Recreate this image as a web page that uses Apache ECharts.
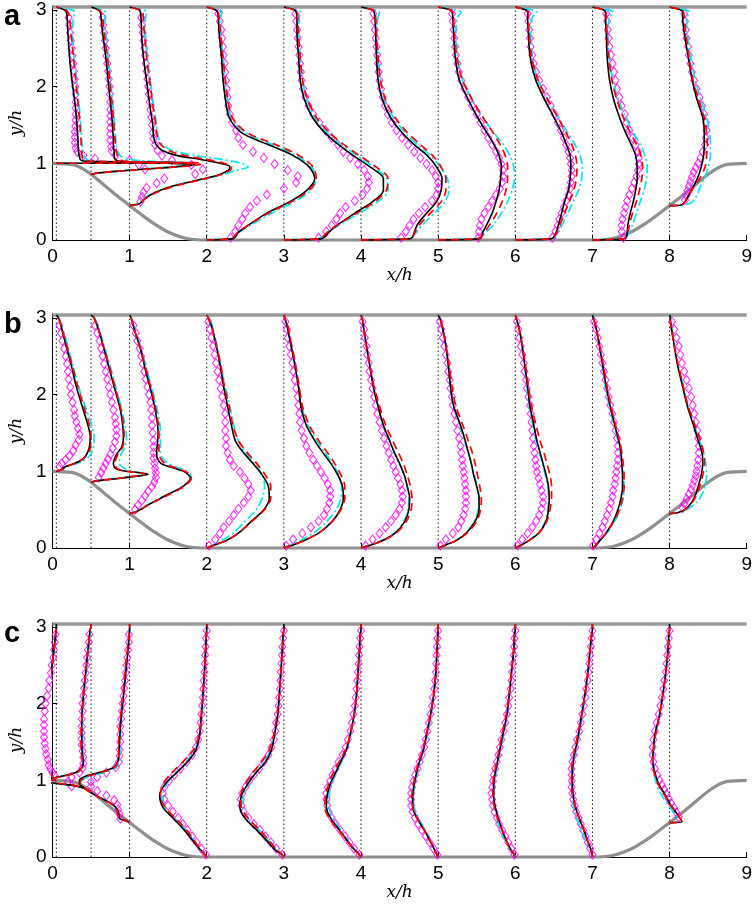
<!DOCTYPE html>
<html><head><meta charset="utf-8">
<script src="https://cdn.jsdelivr.net/npm/echarts/dist/echarts.min.js"></script>
<style>html,body{margin:0;padding:0;background:#fff}#c{width:755px;height:909px}</style>
</head><body><div id="c"></div>
<script>
// ---------- data ----------
const stations = [0.05, 0.5, 1, 2, 3, 4, 5, 6, 7, 8];
const xTicks = [0, 1, 2, 3, 4, 5, 6, 7, 8, 9];
const yTicks = [0, 1, 2, 3];
const topWall = 3.036;
const panelLetters = ['a', 'b', 'c'];
// hill surface (left half; right half is the same hill seen from x = 9)
const hillX = [0, 0.25, 0.32, 0.4, 0.5, 0.6, 0.714, 0.8, 0.9, 1.0, 1.1, 1.2, 1.3, 1.43, 1.5, 1.6, 1.7, 1.8, 1.93];
const hillY = [1.0, 0.986, 0.964, 0.925, 0.857, 0.776, 0.679, 0.607, 0.527, 0.448, 0.371, 0.295, 0.224, 0.143, 0.105, 0.062, 0.030, 0.0096, 0];

// y levels of the simulated profiles at each station
const yS005 = [1.0, 1.006, 1.015, 1.03, 1.05, 1.08, 1.13, 1.2, 1.3, 1.45, 1.6, 1.8, 2.1, 2.4, 2.7, 2.9, 2.97, 3.0, 3.036];
const yS05 = [0.857, 0.875, 0.9, 0.93, 0.96, 0.985, 1.0, 1.03, 1.06, 1.1, 1.15, 1.22, 1.32, 1.45, 1.6, 1.8, 2.1, 2.4, 2.7, 2.9, 2.97, 3.0, 3.036];
const yS1 = [0.448, 0.47, 0.5, 0.55, 0.62, 0.7, 0.78, 0.85, 0.91, 0.955, 1.0, 1.05, 1.1, 1.17, 1.25, 1.35, 1.5, 1.7, 2.0, 2.3, 2.6, 2.85, 2.97, 3.0, 3.036];
const yFlat = [0, 0.015, 0.04, 0.1, 0.2, 0.35, 0.5, 0.65, 0.8, 0.95, 1.1, 1.25, 1.4, 1.6, 1.85, 2.1, 2.4, 2.7, 2.9, 2.97, 3.0, 3.036];
const yS8 = [0.448, 0.46, 0.5, 0.6, 0.7, 0.8, 0.95, 1.1, 1.25, 1.4, 1.6, 1.85, 2.1, 2.4, 2.7, 2.9, 2.97, 3.0, 3.036];
const lineY = [yS005, yS05, yS1, yFlat, yFlat, yFlat, yFlat, yFlat, yFlat, yS8];

// y levels of the experimental points (diamonds) at each station
const dY005 = [1.06, 1.1, 1.15, 1.2, 1.27, 1.34, 1.41, 1.48, 1.56, 1.64, 1.72, 1.8, 1.9, 2.0, 2.1, 2.2, 2.3, 2.4, 2.5, 2.6, 2.7, 2.8, 2.9];
const dY05 = [0.92, 0.98, 1.04, 1.1, 1.16, 1.22, 1.3, 1.38, 1.46, 1.54, 1.62, 1.7, 1.8, 1.9, 2.0, 2.1, 2.2, 2.3, 2.4, 2.5, 2.6, 2.7, 2.8, 2.9];
const dY1 = [0.5, 0.56, 0.62, 0.68, 0.74, 0.8, 0.86, 0.92, 0.98, 1.04, 1.1, 1.17, 1.24, 1.32, 1.4, 1.5, 1.6, 1.7, 1.8, 1.9, 2.0, 2.1, 2.2, 2.3, 2.4, 2.5, 2.6, 2.7, 2.8, 2.9];
const dYFlat = [0.03, 0.11, 0.19, 0.27, 0.35, 0.43, 0.51, 0.59, 0.67, 0.75, 0.83, 0.91, 0.99, 1.07, 1.15, 1.24, 1.33, 1.43, 1.53, 1.64, 1.75, 1.86, 1.97, 2.08, 2.19, 2.3, 2.41, 2.52, 2.63, 2.74, 2.85, 2.95];
const dY8 = [0.52, 0.58, 0.64, 0.7, 0.76, 0.82, 0.88, 0.94, 1.0, 1.07, 1.15, 1.24, 1.33, 1.43, 1.53, 1.64, 1.75, 1.86, 1.97, 2.08, 2.19, 2.3, 2.41, 2.52, 2.63, 2.74, 2.85, 2.95];
const diaY = [dY005, dY05, dY1, dYFlat, dYFlat, dYFlat, dYFlat, dYFlat, dYFlat, dY8];

// ---- panel a: profile offsets (x/h from station) ----
const aBlack = [
 [0, 1.80, 1.15, 0.35, 0.31, 0.30, 0.29, 0.285, 0.28, 0.27, 0.26, 0.24, 0.20, 0.17, 0.15, 0.14, 0.13, 0.10, 0],
 [0, 0.1, 0.38, 0.78, 1.17, 1.35, 1.0, 0.35, 0.31, 0.30, 0.30, 0.29, 0.29, 0.28, 0.27, 0.25, 0.22, 0.19, 0.15, 0.13, 0.12, 0.09, 0],
 [0, 0.12, 0.16, 0.21, 0.33, 0.55, 0.88, 1.16, 1.28, 1.30, 1.17, 0.92, 0.62, 0.42, 0.34, 0.31, 0.30, 0.27, 0.23, 0.19, 0.16, 0.15, 0.14, 0.12, 0],
 [0, 0.33, 0.37, 0.41, 0.55, 0.78, 1.08, 1.30, 1.40, 1.33, 1.12, 0.78, 0.45, 0.29, 0.24, 0.21, 0.19, 0.16, 0.15, 0.14, 0.11, 0],
 [0, 0.48, 0.53, 0.58, 0.70, 0.92, 1.15, 1.29, 1.29, 1.12, 0.90, 0.70, 0.53, 0.37, 0.26, 0.21, 0.19, 0.17, 0.17, 0.16, 0.13, 0],
 [0, 0.62, 0.67, 0.69, 0.73, 0.85, 0.98, 1.04, 1.05, 0.98, 0.86, 0.68, 0.53, 0.38, 0.27, 0.22, 0.20, 0.19, 0.18, 0.17, 0.14, 0],
 [0, 0.52, 0.56, 0.58, 0.63, 0.70, 0.75, 0.79, 0.81, 0.82, 0.79, 0.72, 0.63, 0.51, 0.38, 0.27, 0.22, 0.20, 0.19, 0.18, 0.15, 0],
 [0, 0.46, 0.50, 0.53, 0.56, 0.60, 0.64, 0.69, 0.71, 0.72, 0.71, 0.66, 0.60, 0.50, 0.37, 0.26, 0.19, 0.17, 0.16, 0.16, 0.13, 0],
 [0, 0.40, 0.44, 0.45, 0.46, 0.49, 0.53, 0.56, 0.58, 0.58, 0.56, 0.50, 0.43, 0.35, 0.27, 0.22, 0.19, 0.18, 0.17, 0.17, 0.14, 0],
 [0, 0.16, 0.20, 0.26, 0.31, 0.36, 0.41, 0.44, 0.45, 0.45, 0.43, 0.35, 0.29, 0.24, 0.19, 0.17, 0.17, 0.14, 0]
];
const aRed = [
 [0, 1.85, 1.2, 0.40, 0.35, 0.34, 0.33, 0.325, 0.32, 0.31, 0.30, 0.28, 0.25, 0.22, 0.19, 0.17, 0.15, 0.12, 0],
 [0, 0.1, 0.4, 0.8, 1.2, 1.42, 1.1, 0.42, 0.36, 0.34, 0.33, 0.32, 0.31, 0.30, 0.29, 0.27, 0.24, 0.21, 0.17, 0.15, 0.13, 0.1, 0],
 [0, 0.12, 0.16, 0.22, 0.35, 0.58, 0.9, 1.18, 1.31, 1.32, 1.22, 1.0, 0.72, 0.5, 0.4, 0.36, 0.34, 0.31, 0.27, 0.23, 0.2, 0.18, 0.17, 0.14, 0],
 [0, 0.3, 0.35, 0.4, 0.55, 0.8, 1.1, 1.33, 1.42, 1.38, 1.2, 0.88, 0.52, 0.33, 0.27, 0.24, 0.21, 0.18, 0.16, 0.15, 0.12, 0],
 [0, 0.45, 0.5, 0.56, 0.7, 0.95, 1.18, 1.33, 1.35, 1.2, 0.98, 0.77, 0.59, 0.42, 0.3, 0.24, 0.21, 0.19, 0.18, 0.17, 0.14, 0],
 [0, 0.6, 0.66, 0.7, 0.76, 0.9, 1.04, 1.1, 1.1, 1.04, 0.93, 0.76, 0.6, 0.44, 0.31, 0.25, 0.22, 0.2, 0.19, 0.18, 0.15, 0],
 [0, 0.5, 0.56, 0.6, 0.67, 0.76, 0.83, 0.88, 0.9, 0.9, 0.87, 0.8, 0.71, 0.58, 0.43, 0.31, 0.24, 0.21, 0.2, 0.19, 0.16, 0],
 [0, 0.45, 0.5, 0.54, 0.58, 0.64, 0.7, 0.76, 0.79, 0.8, 0.78, 0.73, 0.66, 0.55, 0.41, 0.29, 0.21, 0.18, 0.17, 0.17, 0.14, 0],
 [0, 0.4, 0.44, 0.46, 0.48, 0.52, 0.57, 0.61, 0.64, 0.65, 0.63, 0.57, 0.49, 0.4, 0.31, 0.25, 0.21, 0.19, 0.18, 0.18, 0.15, 0],
 [0, 0.16, 0.2, 0.26, 0.32, 0.39, 0.46, 0.48, 0.49, 0.48, 0.45, 0.37, 0.3, 0.25, 0.21, 0.19, 0.18, 0.15, 0]
];
const aCyan = [
 [0, 1.65, 1.0, 0.45, 0.40, 0.37, 0.35, 0.34, 0.33, 0.32, 0.31, 0.29, 0.26, 0.23, 0.21, 0.22, 0.24, 0.2, 0],
 [0, 0.08, 0.35, 0.72, 1.1, 1.3, 1.25, 0.7, 0.45, 0.38, 0.35, 0.33, 0.32, 0.31, 0.30, 0.28, 0.25, 0.22, 0.19, 0.18, 0.19, 0.15, 0],
 [0, 0.1, 0.15, 0.2, 0.33, 0.55, 0.88, 1.2, 1.4, 1.54, 1.45, 1.2, 0.85, 0.55, 0.42, 0.37, 0.35, 0.32, 0.28, 0.24, 0.21, 0.2, 0.22, 0.18, 0],
 [0, 0.3, 0.36, 0.42, 0.58, 0.84, 1.14, 1.35, 1.42, 1.36, 1.16, 0.84, 0.5, 0.32, 0.27, 0.24, 0.21, 0.18, 0.18, 0.2, 0.16, 0],
 [0, 0.42, 0.5, 0.57, 0.72, 0.98, 1.22, 1.35, 1.33, 1.17, 0.95, 0.74, 0.56, 0.4, 0.29, 0.24, 0.21, 0.19, 0.2, 0.22, 0.17, 0],
 [0, 0.58, 0.66, 0.72, 0.8, 0.95, 1.09, 1.14, 1.12, 1.03, 0.9, 0.72, 0.57, 0.42, 0.3, 0.25, 0.22, 0.2, 0.22, 0.24, 0.18, 0],
 [0, 0.48, 0.56, 0.62, 0.72, 0.82, 0.9, 0.96, 0.99, 0.98, 0.93, 0.84, 0.72, 0.58, 0.43, 0.31, 0.25, 0.23, 0.25, 0.3, 0.22, 0],
 [0, 0.44, 0.51, 0.56, 0.61, 0.68, 0.75, 0.82, 0.86, 0.87, 0.84, 0.77, 0.68, 0.56, 0.41, 0.29, 0.22, 0.2, 0.22, 0.28, 0.22, 0],
 [0, 0.38, 0.44, 0.48, 0.52, 0.57, 0.62, 0.67, 0.7, 0.71, 0.68, 0.62, 0.53, 0.43, 0.33, 0.26, 0.22, 0.2, 0.22, 0.27, 0.2, 0],
 [0, 0.2, 0.3, 0.36, 0.4, 0.45, 0.5, 0.53, 0.53, 0.52, 0.48, 0.4, 0.33, 0.27, 0.23, 0.22, 0.26, 0.2, 0]
];
const aDia = [
 [0.5, 0.35, 0.27, 0.25, 0.24, 0.24, 0.24, 0.245, 0.25, 0.25, 0.25, 0.25, 0.25, 0.245, 0.24, 0.23, 0.22, 0.21, 0.2, 0.19, 0.18, 0.17, 0.16],
 [0.7, 0.62, 0.5, 0.32, 0.27, 0.26, 0.25, 0.25, 0.25, 0.25, 0.25, 0.25, 0.25, 0.245, 0.24, 0.23, 0.22, 0.21, 0.2, 0.19, 0.18, 0.17, 0.16, 0.15],
 [0.14, 0.16, 0.18, 0.22, 0.35, 0.45, 0.85, 0.95, 0.8, 0.55, 0.42, 0.36, 0.33, 0.31, 0.3, 0.29, 0.28, 0.27, 0.26, 0.25, 0.24, 0.23, 0.22, 0.21, 0.2, 0.19, 0.18, 0.17, 0.16, 0.15],
 [0.31, 0.37, 0.41, 0.46, 0.5, 0.56, 0.65, 0.78, 1.0, 1.16, 1.18, 1.05, 0.88, 0.74, 0.6, 0.47, 0.41, 0.38, 0.33, 0.3, 0.28, 0.27, 0.26, 0.25, 0.24, 0.23, 0.22, 0.21, 0.2, 0.19, 0.17, 0.15],
 [0.45, 0.55, 0.62, 0.68, 0.73, 0.8, 0.92, 1.02, 1.08, 1.1, 1.09, 1.04, 0.96, 0.86, 0.77, 0.7, 0.62, 0.54, 0.46, 0.38, 0.32, 0.28, 0.25, 0.23, 0.22, 0.21, 0.2, 0.19, 0.18, 0.17, 0.16, 0.15],
 [0.52, 0.58, 0.63, 0.68, 0.75, 0.83, 0.92, 0.98, 1.0, 1.0, 0.97, 0.92, 0.85, 0.77, 0.69, 0.61, 0.53, 0.46, 0.4, 0.35, 0.31, 0.28, 0.26, 0.24, 0.23, 0.22, 0.21, 0.2, 0.19, 0.18, 0.17, 0.16],
 [0.52, 0.53, 0.54, 0.56, 0.6, 0.65, 0.7, 0.75, 0.8, 0.83, 0.84, 0.84, 0.82, 0.79, 0.75, 0.7, 0.65, 0.6, 0.55, 0.5, 0.44, 0.39, 0.34, 0.3, 0.27, 0.25, 0.23, 0.22, 0.21, 0.2, 0.19, 0.18],
 [0.48, 0.52, 0.55, 0.57, 0.6, 0.63, 0.66, 0.69, 0.71, 0.72, 0.73, 0.73, 0.72, 0.71, 0.69, 0.66, 0.63, 0.59, 0.55, 0.51, 0.46, 0.41, 0.36, 0.31, 0.27, 0.24, 0.22, 0.2, 0.19, 0.18, 0.17, 0.16],
 [0.4, 0.38, 0.38, 0.39, 0.41, 0.43, 0.45, 0.48, 0.51, 0.54, 0.57, 0.59, 0.6, 0.6, 0.59, 0.56, 0.52, 0.48, 0.44, 0.42, 0.38, 0.35, 0.32, 0.3, 0.28, 0.26, 0.24, 0.22, 0.21, 0.2, 0.19, 0.18],
 [0.2, 0.22, 0.23, 0.25, 0.27, 0.29, 0.31, 0.34, 0.37, 0.4, 0.43, 0.46, 0.47, 0.48, 0.47, 0.45, 0.42, 0.39, 0.35, 0.32, 0.29, 0.27, 0.25, 0.24, 0.22, 0.21, 0.2, 0.19]
];

// ---- panel b ----
const bBlack = [
 [0, 0.02, 0.05, 0.08, 0.1, 0.17, 0.3, 0.38, 0.425, 0.44, 0.41, 0.35, 0.26, 0.19, 0.11, 0.06, 0.04, 0.03, 0],
 [0, 0.07, 0.3, 0.55, 0.74, 0.6, 0.45, 0.33, 0.3, 0.29, 0.3, 0.33, 0.4, 0.42, 0.41, 0.38, 0.3, 0.22, 0.14, 0.08, 0.05, 0.04, 0],
 [0, 0.08, 0.14, 0.22, 0.35, 0.5, 0.66, 0.75, 0.79, 0.76, 0.7, 0.55, 0.41, 0.36, 0.35, 0.36, 0.37, 0.35, 0.29, 0.21, 0.14, 0.06, 0.03, 0.02, 0],
 [0, 0.04, 0.1, 0.26, 0.42, 0.58, 0.74, 0.81, 0.8, 0.72, 0.6, 0.47, 0.37, 0.32, 0.27, 0.22, 0.17, 0.11, 0.06, 0.03, 0.02, 0],
 [0, 0.04, 0.12, 0.27, 0.46, 0.63, 0.73, 0.77, 0.76, 0.7, 0.61, 0.5, 0.4, 0.29, 0.22, 0.19, 0.14, 0.08, 0.04, 0.02, 0.01, 0],
 [0, 0.05, 0.13, 0.29, 0.45, 0.57, 0.62, 0.63, 0.6, 0.56, 0.5, 0.43, 0.37, 0.29, 0.22, 0.16, 0.11, 0.06, 0.03, 0.02, 0.01, 0],
 [0, 0.04, 0.1, 0.24, 0.37, 0.48, 0.53, 0.53, 0.5, 0.46, 0.43, 0.39, 0.35, 0.29, 0.2, 0.16, 0.13, 0.09, 0.05, 0.03, 0.02, 0],
 [0, 0.03, 0.08, 0.18, 0.31, 0.4, 0.43, 0.44, 0.43, 0.4, 0.36, 0.32, 0.28, 0.24, 0.19, 0.16, 0.12, 0.08, 0.04, 0.02, 0.01, 0],
 [0, 0.02, 0.05, 0.1, 0.18, 0.27, 0.33, 0.37, 0.39, 0.39, 0.38, 0.37, 0.34, 0.29, 0.23, 0.18, 0.13, 0.08, 0.04, 0.02, 0.01, 0],
 [0, 0.1, 0.2, 0.29, 0.34, 0.37, 0.41, 0.43, 0.42, 0.37, 0.31, 0.23, 0.17, 0.1, 0.05, 0.02, 0.01, 0.01, 0]
];
const bRed = [
 [0, 0.02, 0.05, 0.09, 0.11, 0.18, 0.3, 0.39, 0.44, 0.45, 0.43, 0.37, 0.28, 0.2, 0.12, 0.06, 0.04, 0.03, 0],
 [0, 0.07, 0.28, 0.52, 0.7, 0.6, 0.46, 0.35, 0.32, 0.31, 0.32, 0.35, 0.41, 0.43, 0.42, 0.39, 0.31, 0.23, 0.14, 0.08, 0.05, 0.04, 0],
 [0, 0.08, 0.14, 0.22, 0.36, 0.52, 0.67, 0.76, 0.8, 0.78, 0.72, 0.58, 0.46, 0.4, 0.38, 0.38, 0.38, 0.36, 0.3, 0.22, 0.14, 0.06, 0.03, 0.02, 0],
 [0, 0.04, 0.1, 0.26, 0.42, 0.59, 0.75, 0.83, 0.83, 0.76, 0.65, 0.52, 0.41, 0.34, 0.29, 0.23, 0.18, 0.11, 0.06, 0.03, 0.02, 0],
 [0, 0.04, 0.12, 0.27, 0.46, 0.63, 0.74, 0.79, 0.79, 0.74, 0.66, 0.56, 0.45, 0.33, 0.24, 0.2, 0.15, 0.09, 0.05, 0.02, 0.01, 0],
 [0, 0.05, 0.13, 0.29, 0.46, 0.59, 0.65, 0.66, 0.64, 0.6, 0.55, 0.48, 0.41, 0.32, 0.24, 0.17, 0.11, 0.06, 0.03, 0.02, 0.01, 0],
 [0, 0.04, 0.1, 0.24, 0.38, 0.5, 0.55, 0.56, 0.54, 0.51, 0.48, 0.44, 0.39, 0.32, 0.23, 0.18, 0.14, 0.09, 0.05, 0.03, 0.02, 0],
 [0, 0.03, 0.08, 0.18, 0.31, 0.41, 0.45, 0.47, 0.47, 0.45, 0.41, 0.37, 0.32, 0.27, 0.21, 0.17, 0.13, 0.08, 0.04, 0.02, 0.01, 0],
 [0, 0.02, 0.05, 0.1, 0.18, 0.28, 0.35, 0.39, 0.41, 0.41, 0.4, 0.38, 0.35, 0.3, 0.24, 0.19, 0.14, 0.08, 0.04, 0.02, 0.01, 0],
 [0, 0.1, 0.2, 0.3, 0.35, 0.39, 0.43, 0.45, 0.44, 0.4, 0.33, 0.24, 0.18, 0.11, 0.05, 0.02, 0.01, 0.01, 0]
];
const bCyan = [
 [0, 0.02, 0.04, 0.08, 0.12, 0.2, 0.34, 0.43, 0.48, 0.49, 0.46, 0.39, 0.29, 0.21, 0.13, 0.07, 0.05, 0.04, 0],
 [0, 0.06, 0.26, 0.5, 0.66, 0.62, 0.55, 0.45, 0.4, 0.37, 0.37, 0.39, 0.44, 0.46, 0.44, 0.4, 0.32, 0.24, 0.15, 0.09, 0.06, 0.04, 0],
 [0, 0.07, 0.13, 0.21, 0.34, 0.5, 0.65, 0.75, 0.8, 0.79, 0.74, 0.62, 0.5, 0.43, 0.4, 0.4, 0.4, 0.38, 0.31, 0.23, 0.15, 0.07, 0.03, 0.02, 0],
 [0, 0.03, 0.08, 0.2, 0.35, 0.5, 0.64, 0.72, 0.75, 0.72, 0.62, 0.5, 0.41, 0.35, 0.3, 0.24, 0.18, 0.12, 0.07, 0.04, 0.02, 0],
 [0, 0.03, 0.09, 0.22, 0.39, 0.56, 0.68, 0.74, 0.75, 0.71, 0.63, 0.53, 0.43, 0.31, 0.23, 0.19, 0.14, 0.08, 0.04, 0.02, 0.01, 0],
 [0, 0.04, 0.11, 0.27, 0.44, 0.56, 0.61, 0.62, 0.6, 0.56, 0.5, 0.43, 0.37, 0.29, 0.22, 0.16, 0.11, 0.06, 0.03, 0.02, 0.01, 0],
 [0, 0.04, 0.1, 0.23, 0.36, 0.47, 0.52, 0.53, 0.51, 0.47, 0.43, 0.39, 0.34, 0.28, 0.2, 0.16, 0.13, 0.09, 0.05, 0.03, 0.02, 0],
 [0, 0.03, 0.08, 0.17, 0.3, 0.39, 0.42, 0.43, 0.42, 0.39, 0.35, 0.31, 0.27, 0.23, 0.18, 0.15, 0.12, 0.08, 0.04, 0.02, 0.01, 0],
 [0, 0.02, 0.05, 0.1, 0.19, 0.29, 0.36, 0.4, 0.41, 0.4, 0.38, 0.36, 0.33, 0.28, 0.22, 0.17, 0.13, 0.08, 0.04, 0.02, 0.01, 0],
 [0, 0.1, 0.22, 0.36, 0.42, 0.46, 0.48, 0.47, 0.44, 0.39, 0.32, 0.24, 0.18, 0.11, 0.05, 0.02, 0.01, 0.01, 0]
];
const bDia = [
 [0.04, 0.07, 0.12, 0.17, 0.22, 0.25, 0.29, 0.3, 0.28, 0.26, 0.24, 0.23, 0.21, 0.19, 0.18, 0.16, 0.15, 0.14, 0.12, 0.1, 0.08, 0.06, 0.04],
 [0.1, 0.13, 0.16, 0.19, 0.22, 0.25, 0.28, 0.31, 0.33, 0.33, 0.32, 0.31, 0.29, 0.27, 0.25, 0.23, 0.21, 0.19, 0.17, 0.15, 0.13, 0.11, 0.08, 0.05],
 [0.07, 0.11, 0.16, 0.2, 0.24, 0.29, 0.32, 0.34, 0.34, 0.33, 0.32, 0.31, 0.31, 0.31, 0.31, 0.3, 0.29, 0.29, 0.28, 0.27, 0.25, 0.23, 0.21, 0.19, 0.17, 0.15, 0.13, 0.1, 0.08, 0.05],
 [0.03, 0.11, 0.17, 0.22, 0.29, 0.35, 0.41, 0.48, 0.54, 0.57, 0.54, 0.49, 0.43, 0.35, 0.3, 0.27, 0.25, 0.25, 0.24, 0.24, 0.24, 0.22, 0.2, 0.18, 0.16, 0.14, 0.12, 0.1, 0.08, 0.06, 0.04, 0.02],
 [0.03, 0.12, 0.24, 0.35, 0.45, 0.52, 0.56, 0.59, 0.6, 0.6, 0.57, 0.53, 0.48, 0.43, 0.38, 0.33, 0.29, 0.26, 0.23, 0.21, 0.2, 0.19, 0.18, 0.16, 0.14, 0.12, 0.11, 0.09, 0.07, 0.05, 0.04, 0.02],
 [0.06, 0.15, 0.24, 0.32, 0.39, 0.45, 0.5, 0.53, 0.54, 0.53, 0.51, 0.48, 0.45, 0.42, 0.39, 0.36, 0.33, 0.3, 0.27, 0.24, 0.21, 0.19, 0.17, 0.15, 0.13, 0.11, 0.1, 0.08, 0.07, 0.05, 0.04, 0.02],
 [0.03, 0.1, 0.19, 0.26, 0.3, 0.33, 0.35, 0.36, 0.36, 0.36, 0.35, 0.34, 0.33, 0.32, 0.31, 0.3, 0.29, 0.27, 0.25, 0.23, 0.21, 0.19, 0.18, 0.16, 0.15, 0.13, 0.12, 0.1, 0.08, 0.06, 0.04, 0.02],
 [0.03, 0.09, 0.16, 0.22, 0.27, 0.31, 0.34, 0.36, 0.36, 0.34, 0.32, 0.3, 0.28, 0.27, 0.26, 0.25, 0.24, 0.23, 0.22, 0.21, 0.2, 0.19, 0.17, 0.15, 0.14, 0.12, 0.11, 0.09, 0.07, 0.05, 0.04, 0.02],
 [0.01, 0.05, 0.09, 0.13, 0.16, 0.19, 0.22, 0.24, 0.26, 0.27, 0.29, 0.3, 0.31, 0.32, 0.33, 0.33, 0.33, 0.32, 0.3, 0.28, 0.26, 0.23, 0.21, 0.19, 0.17, 0.15, 0.13, 0.11, 0.09, 0.07, 0.05, 0.02],
 [0.17, 0.19, 0.22, 0.25, 0.28, 0.3, 0.32, 0.34, 0.35, 0.36, 0.37, 0.38, 0.38, 0.37, 0.36, 0.34, 0.32, 0.3, 0.28, 0.25, 0.22, 0.19, 0.16, 0.14, 0.12, 0.09, 0.06, 0.03]
];

// ---- panel c ----
const cBlack = [
 [0, -0.31, -0.16, -0.06, -0.05, -0.07, -0.08, -0.1, -0.12, -0.15, -0.16, -0.16, -0.12, -0.07, -0.03, -0.01, 0, 0, 0],
 [0, -0.05, -0.1, -0.22, -0.45, -0.72, -0.6, -0.48, -0.35, -0.2, -0.13, -0.1, -0.11, -0.12, -0.12, -0.12, -0.1, -0.07, -0.04, -0.02, -0.01, 0, 0],
 [0, -0.03, -0.13, -0.14, -0.16, -0.24, -0.4, -0.52, -0.6, -0.65, -0.65, -0.58, -0.4, -0.2, -0.15, -0.14, -0.13, -0.12, -0.09, -0.06, -0.03, -0.01, 0, 0, 0],
 [0, -0.01, -0.03, -0.09, -0.17, -0.29, -0.43, -0.57, -0.61, -0.54, -0.39, -0.24, -0.14, -0.09, -0.07, -0.05, -0.03, -0.015, -0.005, 0, 0, 0],
 [0, -0.01, -0.04, -0.12, -0.21, -0.35, -0.5, -0.57, -0.55, -0.47, -0.36, -0.23, -0.16, -0.12, -0.08, -0.06, -0.04, -0.02, -0.01, 0, 0, 0],
 [0, -0.01, -0.03, -0.09, -0.17, -0.28, -0.39, -0.45, -0.44, -0.4, -0.33, -0.26, -0.19, -0.14, -0.09, -0.06, -0.04, -0.02, -0.01, 0, 0, 0],
 [0, -0.01, -0.02, -0.05, -0.1, -0.18, -0.27, -0.33, -0.33, -0.31, -0.28, -0.24, -0.19, -0.15, -0.1, -0.06, -0.03, -0.015, -0.005, 0, 0, 0],
 [0, -0.01, -0.02, -0.06, -0.11, -0.17, -0.22, -0.26, -0.28, -0.28, -0.26, -0.23, -0.2, -0.16, -0.11, -0.08, -0.05, -0.02, -0.01, 0, 0, 0],
 [0, 0, -0.005, -0.02, -0.06, -0.11, -0.17, -0.22, -0.25, -0.26, -0.26, -0.25, -0.22, -0.18, -0.14, -0.1, -0.06, -0.03, -0.01, 0, 0, 0],
 [0, 0.16, 0.14, 0.07, 0.0, -0.05, -0.14, -0.19, -0.22, -0.21, -0.19, -0.13, -0.09, -0.05, -0.02, -0.01, 0, 0, 0]
];
const cRed = [
 [0, -0.28, -0.14, -0.06, -0.05, -0.07, -0.09, -0.11, -0.13, -0.15, -0.16, -0.16, -0.12, -0.07, -0.03, -0.01, 0, 0, 0],
 [0, -0.05, -0.1, -0.2, -0.42, -0.66, -0.58, -0.46, -0.33, -0.18, -0.13, -0.11, -0.12, -0.13, -0.13, -0.12, -0.1, -0.07, -0.04, -0.02, -0.01, 0, 0],
 [0, -0.04, -0.14, -0.15, -0.17, -0.25, -0.4, -0.52, -0.6, -0.64, -0.63, -0.55, -0.37, -0.19, -0.15, -0.14, -0.14, -0.13, -0.1, -0.07, -0.04, -0.01, 0, 0, 0],
 [0, -0.01, -0.03, -0.08, -0.15, -0.26, -0.4, -0.54, -0.6, -0.57, -0.45, -0.3, -0.17, -0.1, -0.07, -0.05, -0.03, -0.015, -0.005, 0, 0, 0],
 [0, -0.01, -0.03, -0.1, -0.18, -0.31, -0.46, -0.55, -0.56, -0.5, -0.4, -0.28, -0.19, -0.13, -0.09, -0.06, -0.04, -0.02, -0.01, 0, 0, 0],
 [0, -0.01, -0.03, -0.09, -0.17, -0.29, -0.41, -0.47, -0.46, -0.42, -0.36, -0.28, -0.2, -0.14, -0.09, -0.06, -0.04, -0.02, -0.01, 0, 0, 0],
 [0, -0.01, -0.02, -0.05, -0.1, -0.18, -0.27, -0.33, -0.34, -0.32, -0.29, -0.25, -0.2, -0.15, -0.1, -0.06, -0.03, -0.015, -0.005, 0, 0, 0],
 [0, -0.01, -0.02, -0.06, -0.11, -0.17, -0.23, -0.27, -0.29, -0.29, -0.27, -0.24, -0.21, -0.17, -0.12, -0.08, -0.05, -0.02, -0.01, 0, 0, 0],
 [0, 0, -0.005, -0.02, -0.06, -0.11, -0.17, -0.22, -0.26, -0.27, -0.27, -0.26, -0.23, -0.19, -0.14, -0.1, -0.06, -0.03, -0.01, 0, 0, 0],
 [0, 0.16, 0.14, 0.07, 0.0, -0.06, -0.15, -0.2, -0.22, -0.21, -0.18, -0.13, -0.09, -0.05, -0.02, -0.01, 0, 0, 0]
];
const cCyan = [
 [0, -0.33, -0.2, -0.08, -0.05, -0.06, -0.08, -0.1, -0.12, -0.14, -0.15, -0.15, -0.11, -0.07, -0.03, -0.01, 0, 0, 0],
 [0, -0.05, -0.1, -0.22, -0.48, -0.74, -0.64, -0.5, -0.36, -0.2, -0.12, -0.1, -0.1, -0.11, -0.11, -0.11, -0.09, -0.06, -0.03, -0.01, 0, 0, 0],
 [0, -0.03, -0.12, -0.14, -0.16, -0.24, -0.39, -0.52, -0.6, -0.64, -0.62, -0.52, -0.33, -0.17, -0.13, -0.12, -0.12, -0.11, -0.09, -0.06, -0.03, -0.01, 0, 0, 0],
 [0, -0.01, -0.03, -0.08, -0.16, -0.27, -0.42, -0.54, -0.57, -0.52, -0.4, -0.26, -0.15, -0.09, -0.06, -0.045, -0.03, -0.015, -0.005, 0, 0, 0],
 [0, -0.01, -0.03, -0.1, -0.19, -0.32, -0.46, -0.53, -0.52, -0.46, -0.36, -0.25, -0.17, -0.12, -0.08, -0.06, -0.04, -0.02, -0.01, 0, 0, 0],
 [0, -0.01, -0.03, -0.08, -0.16, -0.26, -0.36, -0.41, -0.41, -0.38, -0.32, -0.25, -0.19, -0.13, -0.09, -0.06, -0.04, -0.02, -0.01, 0, 0, 0],
 [0, -0.01, -0.02, -0.05, -0.1, -0.17, -0.25, -0.31, -0.32, -0.3, -0.27, -0.23, -0.19, -0.14, -0.09, -0.06, -0.03, -0.015, -0.005, 0, 0, 0],
 [0, -0.01, -0.02, -0.06, -0.12, -0.19, -0.24, -0.27, -0.28, -0.27, -0.25, -0.22, -0.19, -0.15, -0.11, -0.08, -0.05, -0.02, -0.01, 0, 0, 0],
 [0, 0, -0.01, -0.03, -0.08, -0.14, -0.2, -0.24, -0.26, -0.27, -0.26, -0.24, -0.21, -0.17, -0.13, -0.09, -0.06, -0.03, -0.01, 0, 0, 0],
 [0, 0.1, 0.1, 0.04, -0.03, -0.1, -0.17, -0.2, -0.21, -0.2, -0.18, -0.13, -0.09, -0.05, -0.02, -0.01, 0, 0, 0]
];
const cDia = [
 [-0.02, -0.05, -0.08, -0.1, -0.11, -0.13, -0.14, -0.15, -0.16, -0.16, -0.16, -0.16, -0.15, -0.14, -0.12, -0.1, -0.09, -0.07, -0.06, -0.04, -0.03, -0.02, -0.01],
 [-0.25, -0.3, -0.25, -0.15, -0.11, -0.1, -0.1, -0.11, -0.12, -0.12, -0.12, -0.12, -0.12, -0.11, -0.11, -0.1, -0.09, -0.08, -0.07, -0.06, -0.05, -0.04, -0.03, -0.02],
 [-0.12, -0.13, -0.15, -0.16, -0.2, -0.3, -0.42, -0.5, -0.5, -0.42, -0.3, -0.18, -0.14, -0.13, -0.13, -0.12, -0.12, -0.12, -0.11, -0.1, -0.09, -0.08, -0.07, -0.06, -0.05, -0.04, -0.03, -0.02, -0.01, -0.01],
 [-0.01, -0.07, -0.13, -0.19, -0.25, -0.31, -0.37, -0.44, -0.5, -0.55, -0.57, -0.55, -0.49, -0.42, -0.34, -0.26, -0.19, -0.14, -0.11, -0.09, -0.08, -0.07, -0.06, -0.05, -0.045, -0.04, -0.03, -0.025, -0.02, -0.015, -0.01, 0],
 [-0.02, -0.1, -0.17, -0.24, -0.31, -0.39, -0.46, -0.52, -0.55, -0.56, -0.54, -0.5, -0.45, -0.39, -0.32, -0.26, -0.2, -0.16, -0.13, -0.11, -0.1, -0.08, -0.07, -0.06, -0.05, -0.045, -0.04, -0.03, -0.025, -0.02, -0.01, 0],
 [-0.02, -0.09, -0.15, -0.21, -0.27, -0.33, -0.38, -0.42, -0.44, -0.45, -0.45, -0.43, -0.4, -0.37, -0.33, -0.29, -0.24, -0.2, -0.17, -0.14, -0.12, -0.1, -0.08, -0.07, -0.06, -0.05, -0.04, -0.03, -0.025, -0.02, -0.01, 0],
 [-0.01, -0.06, -0.11, -0.16, -0.21, -0.26, -0.3, -0.33, -0.35, -0.35, -0.35, -0.34, -0.32, -0.3, -0.27, -0.24, -0.21, -0.18, -0.16, -0.14, -0.12, -0.1, -0.08, -0.07, -0.05, -0.04, -0.03, -0.025, -0.02, -0.015, -0.01, 0],
 [-0.01, -0.05, -0.09, -0.13, -0.17, -0.21, -0.24, -0.27, -0.29, -0.3, -0.31, -0.3, -0.29, -0.28, -0.26, -0.24, -0.22, -0.2, -0.18, -0.15, -0.13, -0.11, -0.09, -0.08, -0.06, -0.05, -0.04, -0.03, -0.02, -0.015, -0.01, 0],
 [0, -0.03, -0.06, -0.09, -0.12, -0.15, -0.18, -0.21, -0.23, -0.25, -0.26, -0.27, -0.27, -0.27, -0.27, -0.26, -0.24, -0.22, -0.2, -0.17, -0.15, -0.13, -0.11, -0.09, -0.08, -0.06, -0.05, -0.04, -0.03, -0.02, -0.01, 0],
 [0.12, 0.09, 0.06, 0.02, -0.01, -0.04, -0.07, -0.1, -0.13, -0.16, -0.19, -0.21, -0.22, -0.22, -0.21, -0.19, -0.17, -0.14, -0.12, -0.1, -0.08, -0.07, -0.05, -0.04, -0.03, -0.02, -0.01, 0]
];

// ---------- chart ----------
const chart = echarts.init(document.getElementById('c'), null, {renderer: 'canvas', width: 755, height: 909});
const panels = [
  {top: 6, black: aBlack, red: aRed, cyan: aCyan, dia: aDia},
  {top: 314, black: bBlack, red: bRed, cyan: bCyan, dia: bDia},
  {top: 623, black: cBlack, red: cRed, cyan: cCyan, dia: cDia}
];
const GRID_H = 234;
const tickFont = 'Liberation Sans';
const grids = [], xAxes = [], yAxes = [], series = [], graphics = [];

function profile(st, ys, dxs) {
  const n = Math.min(ys.length, dxs.length);
  const out = [];
  for (let k = 0; k < n; k++) out.push([st + dxs[k], ys[k]]);
  return out;
}

const hillLine = hillX.map((x, i) => [x, hillY[i]])
  .concat(hillX.slice().reverse().map((x, i) => [xTicks[xTicks.length - 1] - x, hillY[hillY.length - 1 - i]]));

panels.forEach((p, pi) => {
  grids.push({left: 52, width: 696, top: p.top, height: GRID_H, containLabel: false});
  xAxes.push({
    type: 'value', gridIndex: pi, min: xTicks[0], max: xTicks[xTicks.length - 1], interval: 1,
    axisLine: {show: true, onZero: false, lineStyle: {color: '#000', width: 1}},
    axisTick: {show: true, inside: true, length: 5, lineStyle: {color: '#000', width: 1}},
    axisLabel: {color: '#000', fontSize: 19, fontFamily: tickFont, margin: 7},
    splitLine: {show: false},
    name: 'x/h', nameLocation: 'middle', nameGap: 27,
    nameTextStyle: {fontFamily: 'DejaVu Serif', fontStyle: 'italic', fontSize: 17, color: '#000'}
  });
  yAxes.push({
    type: 'value', gridIndex: pi, min: yTicks[0], max: 3.05, interval: 1,
    axisLine: {show: true, onZero: false, lineStyle: {color: '#000', width: 1}},
    axisTick: {show: true, inside: true, length: 5, lineStyle: {color: '#000', width: 1}},
    axisLabel: {color: '#000', fontSize: 19, fontFamily: tickFont, margin: 6, showMaxLabel: false,
      formatter: v => (yTicks.indexOf(v) >= 0 ? String(v) : '')},
    splitLine: {show: false},
    name: 'y/h', nameLocation: 'middle', nameGap: 26, nameRotate: 90,
    nameTextStyle: {fontFamily: 'DejaVu Serif', fontStyle: 'italic', fontSize: 17, color: '#000'}
  });

  // station reference lines (dotted)
  stations.forEach(st => {
    series.push({type: 'line', xAxisIndex: pi, yAxisIndex: pi, data: [[st, 0], [st, topWall]],
      symbol: 'none', silent: true, z: 2, clip: false,
      lineStyle: {color: '#000', width: 0.9, type: [1.5, 2.5]}});
  });
  // hill and top wall
  series.push({type: 'line', xAxisIndex: pi, yAxisIndex: pi, data: hillLine, symbol: 'none', smooth: 0.3,
    silent: true, z: 3, clip: false, lineStyle: {color: '#8f8f8f', width: 3.2}});
  series.push({type: 'line', xAxisIndex: pi, yAxisIndex: pi, data: [[0, topWall], [9, topWall]], symbol: 'none',
    silent: true, z: 3, clip: false, lineStyle: {color: '#9a9a9a', width: 3.5}});

  stations.forEach((st, si) => {
    series.push({type: 'scatter', xAxisIndex: pi, yAxisIndex: pi, data: profile(st, diaY[si], p.dia[si]),
      symbol: 'diamond', symbolSize: [7, 9], z: 4, clip: false, silent: true,
      itemStyle: {color: 'rgba(255,255,255,0)', borderColor: '#ff00ff', borderWidth: 1.1}});
    series.push({type: 'line', xAxisIndex: pi, yAxisIndex: pi, data: profile(st, lineY[si], p.cyan[si]),
      symbol: 'none', smooth: 0.3, z: 5, clip: false, silent: true,
      lineStyle: {color: '#00e8f0', width: 1.7, type: [9, 3, 2, 3]}});
    series.push({type: 'line', xAxisIndex: pi, yAxisIndex: pi, data: profile(st, lineY[si], p.black[si]),
      symbol: 'none', smooth: 0.3, z: 6, clip: false, silent: true,
      lineStyle: {color: '#000', width: 1.6}});
    series.push({type: 'line', xAxisIndex: pi, yAxisIndex: pi, data: profile(st, lineY[si], p.red[si]),
      symbol: 'none', smooth: 0.3, z: 7, clip: false, silent: true,
      lineStyle: {color: '#ff0000', width: 1.7, type: [8, 5]}});
  });

  graphics.push({type: 'text', left: 4, top: p.top - 4, z: 100,
    style: {text: panelLetters[pi], font: 'bold 29px "Liberation Sans", Arial, sans-serif', fill: '#000'}});
});

chart.setOption({
  animation: false,
  backgroundColor: '#fff',
  grid: grids, xAxis: xAxes, yAxis: yAxes, series: series, graphic: graphics
});
</script>
</body></html>
